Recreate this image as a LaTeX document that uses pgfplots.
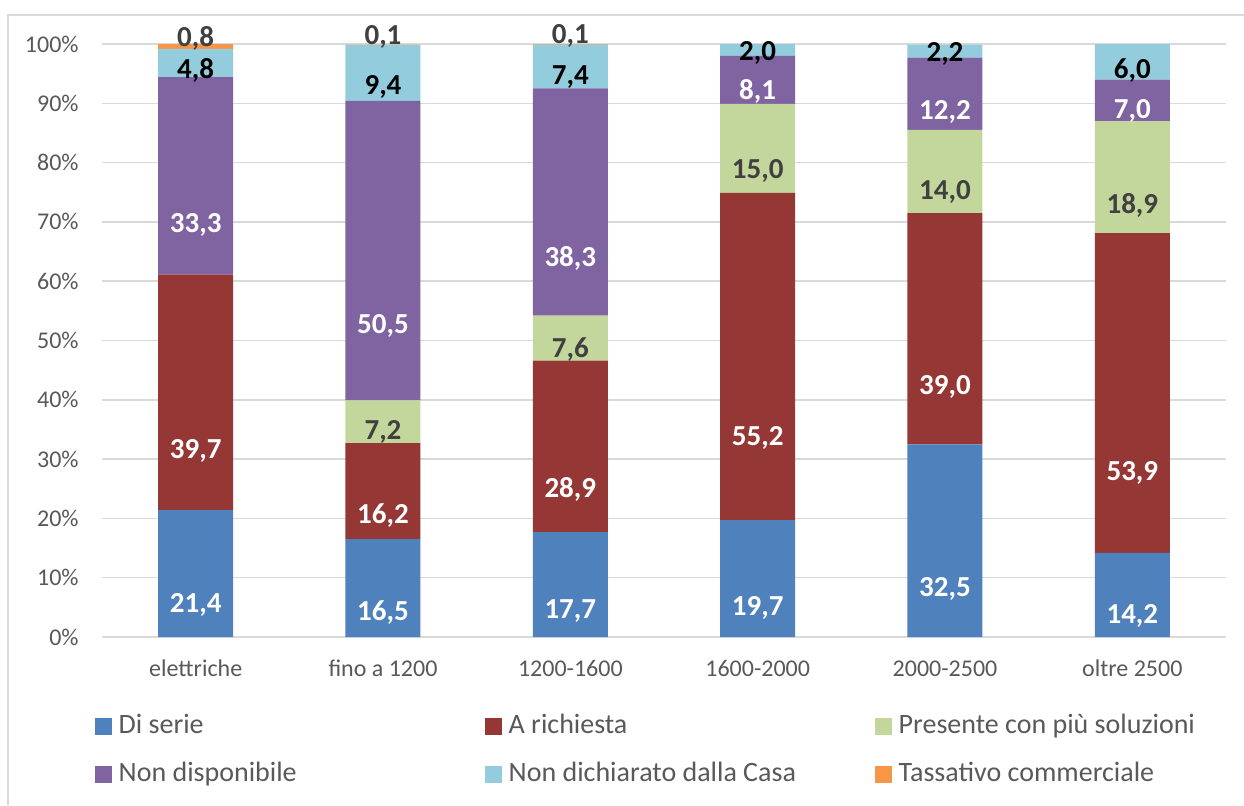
\documentclass[border=0pt]{standalone}
\usepackage{pgfplots}
\pgfplotsset{compat=1.18}
\usepackage{pgfplotstable}
\usepackage{fontspec}
\setmainfont{Carlito}
\definecolor{cSerie}{HTML}{4F81BD}
\definecolor{cRich}{HTML}{953735}
\definecolor{cPres}{HTML}{C3D69B}
\definecolor{cNonDisp}{HTML}{8064A2}
\definecolor{cNonDich}{HTML}{93CDDD}
\definecolor{cTass}{HTML}{F79646}
\definecolor{gridc}{HTML}{D9D9D9}
\definecolor{txt}{HTML}{595959}
\definecolor{dark}{HTML}{404040}

\pgfplotstableread{
x serie richiesta presente nondisp nondich tassativo
0 21.4 39.7 0    33.3 4.8 0.8
1 16.5 16.2 7.2  50.5 9.4 0.1
2 17.7 28.9 7.6  38.3 7.4 0.1
3 19.7 55.2 15.0 8.1  2.0 0
4 32.5 39.0 14.0 12.2 2.2 0
5 14.2 53.9 18.9 7.0  6.0 0
}\data

\pgfplotsset{
  center offset/.code={%
    \pgfkeys{/pgf/fpu=true,/pgf/fpu/output format=fixed}%
    \pgfmathsetmacro\myoff{\pgfplotspointmeta*0.74125}%
    \pgfkeys{/pgf/fpu=false}%
  },
  sq/.style={legend image code/.code={\fill[##1,draw=none] (0pt,-4.25pt) rectangle (8.5pt,4.25pt);}},
}
\newcommand{\lbl}{\pgfmathfloatifflags{\pgfplotspointmeta}{0}{}{\pgfmathprintnumber[fixed,fixed zerofill,precision=1,use comma]{\pgfplotspointmeta}}}
\newcommand{\legtxt}[1]{\hspace{3.5pt}\makebox[183pt][l]{#1}}

\begin{document}
\begin{tikzpicture}
\useasboundingbox (0,0) rectangle (622pt,-402.5pt);
\fill[white] (0,0) rectangle (622pt,-402.5pt);
\draw[gridc, line width=0.75pt] (4pt,-402.5pt) -- (4pt,-7.5pt) -- (622pt,-7.5pt);
\begin{axis}[
  at={(51pt,-318.5pt)}, anchor=south west,
  scale only axis, width=562pt, height=296.5pt,
  ybar stacked, bar width=37.5pt,
  sq,
  xmin=-0.5, xmax=5.5, ymin=0, ymax=100,
  xtick={0,...,5},
  xticklabels={elettriche, fino a 1200, 1200-1600, 1600-2000, 2000-2500, oltre 2500},
  ytick={0,10,...,100},
  yticklabels={0\%,10\%,20\%,30\%,40\%,50\%,60\%,70\%,80\%,90\%,100\%},
  axis line style={draw=none},
  major tick length=0pt,
  ymajorgrids, grid style={gridc, line width=0.75pt},
  xticklabel style={anchor=base, yshift=-19.5pt, inner sep=0pt, text=txt, font=\fontsize{12}{14}\selectfont},
  yticklabel style={anchor=east, xshift=-11.5pt, inner sep=0pt, text=txt, font=\fontsize{12}{14}\selectfont},
  clip=false,
  /pgf/number format/assume math mode=true,
  nodes near coords={\lbl},
  every node near coord/.append style={/pgfplots/center offset, anchor=center, yshift=-\myoff pt, font=\bfseries\fontsize{14.5}{17}\selectfont, inner sep=0pt},
  legend columns=3,
  legend cell align=left,
  legend style={at={(-0.0065,-0.12816)}, anchor=north west, draw=none, fill=none, inner sep=0pt, outer sep=0pt, column sep=0pt, row sep=11.25pt, nodes={inner sep=0pt, text height=10pt, text depth=3pt, text=txt, font=\fontsize{14}{17}\selectfont}},
]
\addplot[fill=cSerie, draw=none, sq, nodes near coords style={text=white}] table[x=x,y=serie]{\data};
\addlegendentry{\legtxt{Di serie}}
\addplot[fill=cRich, draw=none, sq, nodes near coords style={text=white}] table[x=x,y=richiesta]{\data};
\addlegendentry{\legtxt{A richiesta}}
\addplot[fill=cPres, draw=none, sq, nodes near coords style={text=dark}] table[x=x,y=presente]{\data};
\addlegendentry{\legtxt{Presente con più soluzioni}}
\addplot[fill=cNonDisp, draw=none, sq, nodes near coords style={text=white}] table[x=x,y=nondisp]{\data};
\addlegendentry{\legtxt{Non disponibile}}
\addplot[fill=cNonDich, draw=none, sq, nodes near coords style={text=black}] table[x=x,y=nondich]{\data};
\addlegendentry{\legtxt{Non dichiarato dalla Casa}}
\addplot[fill=cTass, draw=none, sq, nodes near coords style={text=dark, yshift=\myoff pt, yshift=4pt}] table[x=x,y=tassativo]{\data};
\addlegendentry{\legtxt{Tassativo commerciale}}
\end{axis}
\end{tikzpicture}
\end{document}
